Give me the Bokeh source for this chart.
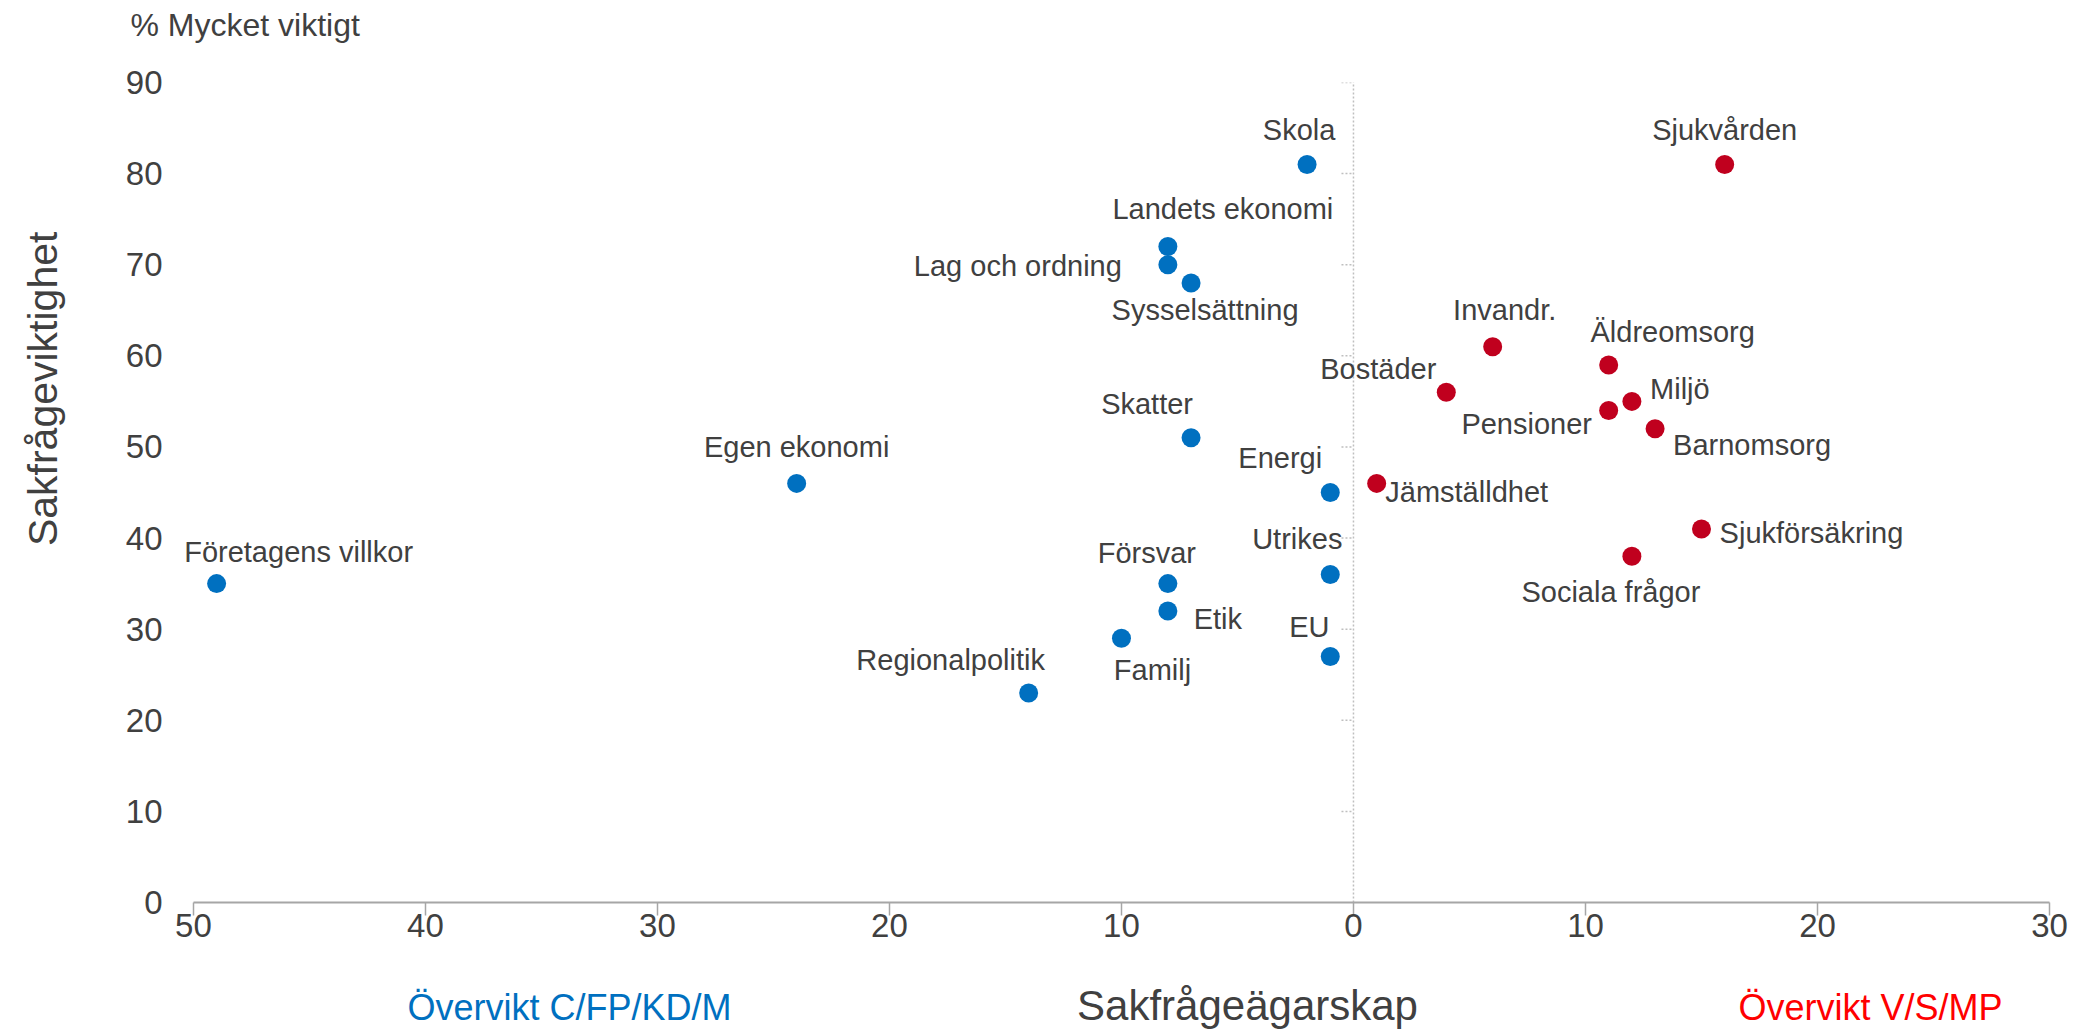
import math
from bokeh.plotting import figure
from bokeh.layouts import column, row
from bokeh.models import ColumnDataSource, FixedTicker
from bokeh.core.properties import value
from bokeh.embed import file_html
from bokeh.resources import INLINE

# ---- data ----
blue_names = ["Företagens villkor", "Egen ekonomi", "Regionalpolitik", "Familj", "Etik",
              "Försvar", "Skatter", "Sysselsättning", "Lag och ordning", "Landets ekonomi",
              "Skola", "Energi", "Utrikes", "EU"]
blue_x = [-49, -24, -14, -10, -8, -8, -7, -7, -8, -8, -2, -1, -1, -1]
blue_y = [35, 46, 23, 29, 32, 35, 51, 68, 70, 72, 81, 45, 36, 27]

red_names = ["Jämställdhet", "Bostäder", "Invandr.", "Äldreomsorg", "Pensioner", "Miljö",
             "Barnomsorg", "Sjukförsäkring", "Sociala frågor", "Sjukvården"]
red_x = [1, 4, 6, 11, 11, 12, 13, 15, 12, 16]
red_y = [46, 56, 61, 59, 54, 55, 52, 41, 38, 81]

x_ticks = [-50, -40, -30, -20, -10, 0, 10, 20, 30]
x_tick_labels = ["50", "40", "30", "20", "10", "0", "10", "20", "30"]
y_ticks = [0, 10, 20, 30, 40, 50, 60, 70, 80, 90]

y_title = "Sakfrågeviktighet"
y_unit = "% Mycket viktigt"
x_title = "Sakfrågeägarskap"
left_note = "Övervikt C/FP/KD/M"
right_note = "Övervikt V/S/MP"

# label placement (screen px offsets from the point, y down)
LABEL_OFFSETS = {
    "Skola": (-8, -35), "Sjukvården": (0, -35), "Landets ekonomi": (55, -38),
    "Lag och ordning": (-150, 1), "Sysselsättning": (14, 27), "Invandr.": (12, -37),
    "Äldreomsorg": (64, -33), "Bostäder": (-68, -23), "Miljö": (48, -12),
    "Skatter": (-44, -34), "Pensioner": (-82, 13), "Barnomsorg": (97, 16),
    "Egen ekonomi": (0, -36), "Energi": (-50, -35), "Jämställdhet": (90, 9),
    "Sjukförsäkring": (110, 4), "Utrikes": (-33, -36), "Företagens villkor": (82, -32),
    "Försvar": (-21, -31), "Sociala frågor": (-21, 36), "Etik": (50, 8),
    "EU": (-21, -30), "Regionalpolitik": (-78, -33), "Familj": (31, 32),
}

FONT = "Liberation Sans"
TXT = "#404040"
BLUE = "#0070C0"
RED_DOT = "#C0001E"
RED_TXT = "#FF0000"
AXIS = "#A6A6A6"

W, H = 2083, 1032
FRAME_TOP = 82      # absolute y of the value 90
PTOP = 22           # top border kept in the main plot for the "90" label
TOP = FRAME_TOP - PTOP   # top strip height
WL = 100            # left strip width
FRAME_H = 820
BOT = 60            # bottom border of main plot (axis)
H2 = H - (FRAME_TOP + FRAME_H + BOT)

PX_X = 23.2           # px per x unit
X_LO = -50.6          # small pad so the left label is not clipped
FRAME_W = int(round((30 - X_LO) * PX_X))
LEFT = 193 - int(round((-50 - X_LO) * PX_X))
RIGHT = W - LEFT - FRAME_W


def strip(width, height):
    f = figure(width=width, height=height, x_range=(0, width), y_range=(0, height),
               output_backend="svg", toolbar_location=None,
               x_axis_location=None, y_axis_location=None,
               min_border_left=0, min_border_right=0, min_border_top=0, min_border_bottom=0)
    f.grid.grid_line_color = None
    f.outline_line_color = None
    return f


# ---- top strip: unit text ----
p_top = strip(W, TOP)
p_top.text(x=[130], y=[TOP - 24], text=[y_unit], text_font=value(FONT), text_font_size="32px",
           text_color=TXT, text_align="left", text_baseline="middle")

# ---- left strip: y title ----
HM = PTOP + FRAME_H + BOT
p_left = strip(WL, HM)
p_left.text(x=[42], y=[HM - (397 - TOP)], text=[y_title], text_font=value(FONT),
            text_font_size="41px", text_color=TXT, text_align="center", text_baseline="middle",
            angle=math.pi / 2)

# ---- main plot ----
p = figure(frame_width=FRAME_W, frame_height=FRAME_H, x_range=(X_LO, 30), y_range=(0, 90),
           output_backend="svg", toolbar_location=None,
           min_border_left=LEFT - WL, min_border_right=RIGHT, min_border_top=PTOP,
           min_border_bottom=BOT)
p.outline_line_color = None
p.grid.grid_line_color = None

xa = p.xaxis[0]
xa.bounds = (-50, 30)
xa.ticker = FixedTicker(ticks=x_ticks)
xa.major_label_overrides = {t: l for t, l in zip(x_ticks, x_tick_labels)}
xa.axis_line_color = AXIS
xa.axis_line_width = 2
xa.major_tick_line_color = AXIS
xa.major_tick_line_width = 1.5
xa.major_tick_out = 13
xa.major_tick_in = 0
xa.minor_tick_line_color = None
xa.major_label_standoff = -2
xa.major_label_text_font = FONT
xa.major_label_text_font_size = "33px"
xa.major_label_text_color = TXT

ya = p.yaxis[0]
ya.ticker = FixedTicker(ticks=y_ticks)
ya.axis_line_color = None
ya.major_tick_line_color = None
ya.minor_tick_line_color = None
ya.major_tick_out = 0
ya.major_tick_in = 0
ya.major_label_standoff = 17
ya.major_label_text_font = FONT
ya.major_label_text_font_size = "33px"
ya.major_label_text_color = TXT

# vertical dotted line at 0 with small ticks
p.segment(x0=[0], y0=[0], x1=[0], y1=[90.3], line_color="#BFBFBF", line_width=1.5, line_dash="2 2")
tick_len = 12 / PX_X
yt = y_ticks[1:]
p.segment(x0=[-tick_len] * len(yt), y0=yt, x1=[0] * len(yt), y1=yt,
          line_color="#BFBFBF", line_width=1.5, line_dash="2 2")

p.scatter(blue_x, blue_y, size=19, fill_color=BLUE, line_color=None)
p.scatter(red_x, red_y, size=19, fill_color=RED_DOT, line_color=None)

names = blue_names + red_names
src = ColumnDataSource(dict(x=blue_x + red_x, y=blue_y + red_y, t=names,
                            dx=[LABEL_OFFSETS[n][0] for n in names],
                            dy=[LABEL_OFFSETS[n][1] for n in names]))
p.text(x="x", y="y", text="t", x_offset="dx", y_offset="dy", source=src,
       text_font=value(FONT), text_font_size="29px", text_color=TXT,
       text_align="center", text_baseline="middle")

# ---- bottom strip ----
p2 = strip(W, H2)
y0 = FRAME_TOP + FRAME_H + BOT
p2.text(x=[1247], y=[H2 - (1005 - y0)], text=[x_title], text_font=value(FONT),
        text_font_size="42px", text_color=TXT, text_align="center", text_baseline="middle")
p2.text(x=[569], y=[H2 - (1007 - y0)], text=[left_note], text_font=value(FONT),
        text_font_size="36px", text_color=BLUE, text_align="center", text_baseline="middle")
p2.text(x=[1870], y=[H2 - (1007 - y0)], text=[right_note], text_font=value(FONT),
        text_font_size="36px", text_color=RED_TXT, text_align="center", text_baseline="middle")

layout = column(p_top, row(p_left, p, spacing=0), p2, spacing=0)
open("out.html", "w").write(file_html(layout, INLINE))
